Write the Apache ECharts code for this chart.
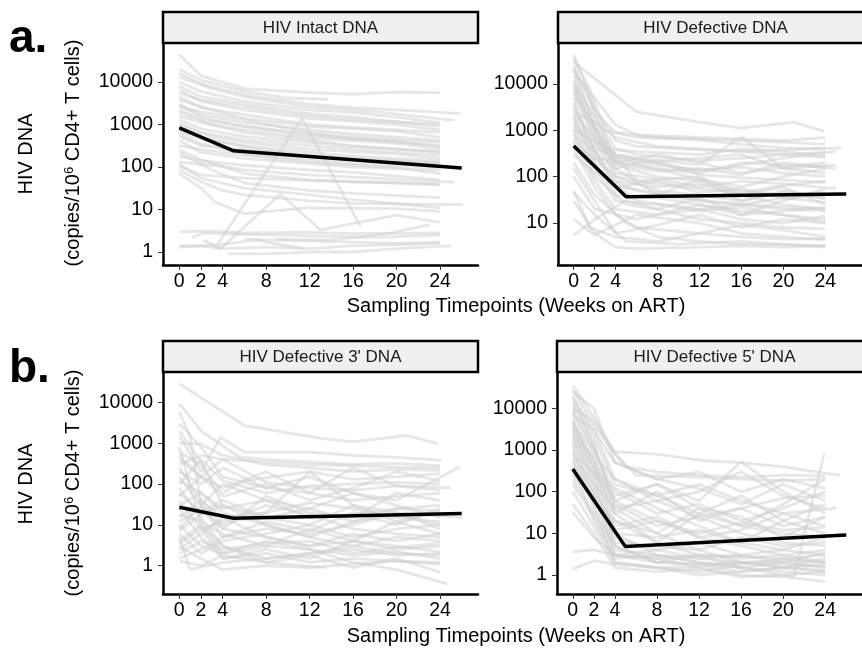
<!DOCTYPE html>
<html>
<head>
<meta charset="utf-8">
<script src="https://cdn.jsdelivr.net/npm/echarts@6/dist/echarts.min.js"></script>
<style>
  html, body { margin: 0; padding: 0; background: #fff; }
  #main { width: 862px; height: 648px; }
</style>
</head>
<body>
<div id="main"></div>
<script>
// x ticks (weeks) and y ticks (copies)
var weekTicks = [0, 2, 4, 8, 12, 16, 20, 24];
var copyTicks = [1, 10, 100, 1000, 10000];

var panelTitles = ['HIV Intact DNA', 'HIV Defective DNA', "HIV Defective 3' DNA", "HIV Defective 5' DNA"];

// black fitted line, [week, copies]
var intactTrend = [[0, 830], [5, 240], [26, 95]];
var defectiveTrend = [[0, 460], [5, 37], [26, 42]];
var def3Trend = [[0, 27], [5, 14.5], [26, 19]];
var def5Trend = [[0, 350], [5, 4.8], [26, 9.1]];

// participant lines, each [[week, copies], ...]
var intactLines = [
  [[0,44000],[2,14000],[6,7000],[12,5600],[16,5200],[20,5800],[24,5600]],
  [[0,20000],[2,11000],[6,6000],[10,4200],[13.7,3900]],
  [[0,16000],[2,9000],[6,5000],[12,3000],[16,2500],[20,2200],[25.9,1800]],
  [[0,13000],[3,7000],[6,4500],[12,2600],[18,2000],[25.3,1250]],
  [[0,10000],[2,6000],[6,3500],[12,2200],[16,1900],[20,1500],[24,1100]],
  [[0,8000],[2,4500],[6,3000],[12,1800],[16,1500],[24,900]],
  [[0,6500],[2,3500],[6,2200],[12,1400],[20,1000],[24,750]],
  [[0,5500],[2,3800],[6,2600],[12,1600],[16,1300],[24,1000]],
  [[0,4500],[2,2500],[6,1700],[12,1000],[16,850],[24,650]],
  [[0,3800],[3,2200],[6,1400],[12,900],[20,700],[24,500]],
  [[0,3000],[2,1700],[6,1100],[12,750],[16,600],[24,420]],
  [[0,2800],[2,1500],[6,900],[12,600],[16,450],[20,400],[24,300]],
  [[0,2600],[2,2000],[6,1300],[12,650],[16,520],[24,380]],
  [[0,2200],[2,1300],[6,900],[12,550],[16,480],[24,320]],
  [[0,1900],[3,1000],[6,750],[12,480],[20,360],[24,260]],
  [[0,1600],[2,1100],[6,650],[12,420],[16,320],[24,220]],
  [[0,1300],[2,800],[6,520],[12,380],[16,300],[24,230]],
  [[0,1100],[2,650],[6,430],[12,320],[16,260],[24,190]],
  [[0,950],[3,520],[6,380],[12,260],[20,200],[24,160]],
  [[0,900],[2,500],[6,300],[12,180],[16,150],[24,120]],
  [[0,700],[2,450],[6,320],[12,220],[16,180],[24,140]],
  [[0,600],[2,350],[6,200],[12,150],[16,120],[24,100]],
  [[0,520],[2,320],[6,260],[12,190],[16,160],[24,125]],
  [[0,420],[2,220],[6,160],[12,120],[16,100],[24,85]],
  [[0,320],[2,260],[6,190],[12,130],[20,95],[24,70]],
  [[0,250],[2,150],[6,70],[12,50],[16,45],[24,40]],
  [[0,220],[3,85],[6,42],[12,28],[16,24],[24,19]],
  [[0,180],[2,140],[6,110],[12,85],[16,75],[24,50]],
  [[0,130],[3,110],[6,85],[12,65],[16,58],[25.3,44]],
  [[0,115],[2,55],[6,32],[12,22],[16,17],[24,11]],
  [[0,105],[2,65],[6,55],[12,48],[20,42],[24,38]],
  [[0,85],[2,45],[4,28],[6,22],[12,16],[16,14],[26.1,13]],
  [[0,70],[2,32],[3.3,15],[5.9,8],[12,11],[20,10.5],[24,9]],
  [[0,3],[3,3.1],[6,2.8],[12,2.9],[16,2.7],[24,2.8]],
  [[0,1.4],[2,1.4],[4,1.2],[8,1.3],[12,1.2],[16,1.4],[24,1.6]],
  [[1.2,2.2],[2.2,2.8],[6,2.6],[12,2.4],[18,2.2],[24,2.5]],
  [[2.2,1.9],[3.8,1.2],[9.3,23],[13,3.3],[20,7.4],[24,5]],
  [[3.5,1.5],[11.3,1400],[16.7,3.9]],
  [[4.5,0.9],[8,0.9],[12,1.0],[16,1.0],[20,1.2],[25,1.4]],
  [[6,2],[12,1.8],[16,1.7],[20,1.6],[24,1.7]],
  [[0,1.3],[4,1.5],[7,1.9],[11.5,1.2]],
  [[9,2],[14,1.9],[19.2,2.7],[23.1,4.4]]
];

var defectiveLines = [
  [[0,30000],[6,2500],[12,1500],[16,1120],[21,1500],[23.9,950]],
  [[0,43000],[2,3000],[4,600],[6,450],[12,380],[16,350],[20,300],[24,260]],
  [[0,35000],[1.5,8000],[3,1000],[6,700],[12,650],[16,600],[20,560],[24,500]],
  [[0,25000],[2,2500],[4,900],[8,700],[12,620],[16,500],[20,420],[24,400]],
  [[0,22000],[2,1200],[4,150],[6,200],[12,250],[16,300],[20,150],[25,180]],
  [[0,20000],[1,9000],[4,200],[8,150],[12,120],[16,200],[20,180],[24,160]],
  [[0,18000],[2,5000],[4,1300],[6,800],[12,700],[16,650],[20,600],[24,700]],
  [[0,15000],[2,1500],[4,300],[6,250],[12,180],[16,720],[20,150],[24,120]],
  [[0,12000],[2,900],[4,120],[8,90],[12,60],[16,80],[20,70],[25,55]],
  [[0,10000],[2,2000],[4,400],[6,300],[12,220],[16,250],[20,300],[24,340]],
  [[0,9000],[1,3000],[3,400],[6,350],[12,300],[16,400],[20,350],[24,280]],
  [[0,8000],[2,600],[4,100],[8,50],[12,40],[16,30],[20,45],[24,35]],
  [[0,7000],[2,1200],[4,250],[8,200],[12,110],[16,95],[20,85],[24,75]],
  [[0,6000],[3,500],[6,80],[12,100],[16,40],[20,60],[24,25]],
  [[0,5000],[2,800],[4,180],[8,130],[12,150],[16,110],[20,200],[25,150]],
  [[0,4000],[2,300],[4,60],[8,45],[12,30],[16,25],[20,20],[24,18]],
  [[0,3500],[2,500],[5,150],[8,100],[12,80],[16,50],[20,40],[24,45]],
  [[0,3000],[2,350],[4,80],[8,60],[12,70],[16,40],[20,25],[24,20]],
  [[0,2500],[2,1500],[4,700],[8,450],[12,400],[16,350],[20,380],[25.5,420]],
  [[0,2200],[2,700],[4,200],[8,300],[12,200],[16,120],[20,160],[24,200]],
  [[0,2000],[2,200],[4,40],[8,35],[12,25],[16,18],[20,15],[24,12]],
  [[0,1800],[2,400],[6,200],[12,140],[16,160],[20,120],[24,100]],
  [[0,1500],[2,250],[4,100],[8,70],[12,55],[16,45],[20,65],[24,80]],
  [[0,1400],[2,400],[4,60],[8,80],[12,45],[16,55],[20,35],[24,40]],
  [[0,1200],[2,150],[4,30],[8,25],[12,18],[16,22],[20,15],[24,10.5]],
  [[0,1000],[2,600],[4,300],[8,200],[12,130],[16,180],[20,250],[25,350]],
  [[0,900],[2,100],[5,25],[8,20],[12,12],[16,10],[20,8],[24,7.5]],
  [[0,800],[2,350],[4,150],[8,40],[12,90],[16,30],[20,50],[24,33]],
  [[0,700],[3,100],[6,30],[12,20],[16,25],[20,35],[24,28]],
  [[0,600],[2,80],[4,20],[8,15],[12,20],[16,12],[20,10],[24,14]],
  [[0,500],[2,250],[6,180],[12,90],[16,60],[20,100],[24,150]],
  [[0,400],[2,60],[4,15],[6,8],[12,6],[16,5],[20,4.5],[24,4.6]],
  [[0,300],[2,120],[6,50],[10,35],[14,28],[20,22],[24,20]],
  [[0,200],[2,40],[5,10],[8,5],[12,4],[16,3.5],[24,3.3]],
  [[0,150],[2,30],[4,6],[8,9],[12,15],[16,8],[20,12],[24,10]],
  [[0,100],[2,20],[6,12],[12,25],[16,15],[20,30],[24,55]],
  [[0,50],[1.5,8],[4,5],[8,4],[12,6],[16,9],[20,7],[24,5]],
  [[0,45],[2,15],[5,4],[10,3.5],[16,4],[24,3]],
  [[0,30],[2,6],[4,3],[6,2.8],[12,3],[16,3.2],[20,3],[24,3.2]],
  [[0,12],[2,5.5],[6,15],[12,10],[16,6],[20,5],[24,4.3]],
  [[0,5.5],[2,12],[5,30],[8,20],[12,35],[16,15],[20,18],[24,22]]
];

var def3Lines = [
  [[0,28500],[6,2700],[13.2,1290],[16,1080],[20.9,1550],[23.8,970]],
  [[0,9300],[2.1,1900],[5.5,460],[8,400],[12,350],[16,300],[20,320],[24,280]],
  [[0,5800],[1,1500],[2,30],[4,8],[8,5],[12,3],[16,4],[20,2.5],[24,3]],
  [[0,3000],[2,800],[4,150],[8,80],[12,60],[16,40],[20,50],[24,60]],
  [[0,2000],[2,350],[4,30],[8,15],[12,25],[16,12],[20,18],[24,10]],
  [[0,1500],[2,200],[3.8,1400],[6,600],[12,600],[16,500],[20,450],[24.1,380]],
  [[0,1000],[2,960],[4,500],[8,300],[12,250],[16,200],[20,230],[24,215]],
  [[0,800],[2,10],[4,2],[8,3],[12,2.5],[16,1.8],[20,2.2],[24,1.5]],
  [[0,600],[2,300],[4,60],[6,120],[12,200],[16,130],[20,150],[24,180]],
  [[0,500],[2,150],[4,50],[8,100],[12,40],[16,80],[20,200],[24,120]],
  [[0,400],[2,150],[4,80],[8,200],[12,60],[16,250],[20,90],[24,70]],
  [[0,300],[2,500],[4,400],[8,350],[12,300],[16,280],[20,260],[24,250]],
  [[0,250],[2,40],[4,15],[8,20],[12,35],[16,25],[20,15],[24,12]],
  [[0,200],[2,100],[4,250],[8,80],[12,150],[16,60],[20,40],[25.8,260]],
  [[0,150],[2,30],[4,5],[8,8],[12,6],[16,10],[20,20],[24,8]],
  [[0,120],[2,60],[4,25],[8,40],[12,15],[16,18],[20,25],[24,22]],
  [[0,100],[2,400],[4,120],[8,60],[12,90],[16,100],[20,110],[24,100]],
  [[0,80],[2,15],[4,3],[8,1.5],[12,2],[16,3],[20,5],[24,4]],
  [[0,60],[2,20],[4,40],[8,15],[12,10],[16,30],[20,12],[24,20]],
  [[0,50],[2,150],[4,400],[8,110],[12,80],[16,70],[20,90],[25,80]],
  [[0,40],[2,8],[4,12],[8,30],[12,18],[16,8],[20,6],[24,5]],
  [[0,30],[2,60],[4,20],[8,10],[12,5],[16,12],[20,25],[24,30]],
  [[0,25],[2,5],[4,1.5],[8,2],[12,1.2],[16,1.5],[20,1.3],[24,1.1]],
  [[0,18],[2,12],[4,6],[8,3],[12,8],[16,4],[20,3],[24,2.2]],
  [[0,15],[2,40],[4,10],[8,20],[12,200],[16,30],[20,20],[26,15]],
  [[0,12],[2,25],[4,8],[8,50],[12,20],[16,15],[20,60],[24,40]],
  [[0,10],[2,3],[4,2],[8,4],[12,2.5],[16,1.2],[20,0.8],[24.7,0.36]],
  [[0,8],[2,30],[4,100],[8,40],[12,25],[16,60],[20,30],[24,15]],
  [[0,7],[2,18],[4,30],[8,10],[12,5],[16,3],[20,2],[24,1.8]],
  [[0,6],[2,2],[4,4],[8,6],[12,10],[16,5],[20,8],[24,10]],
  [[0,5],[1,0.8],[4,1.2],[8,1.5],[12,2],[16,2.5],[20,1.8],[24,2]],
  [[0,4],[2,10],[4,3],[8,1.2],[12,1.8],[16,0.9],[20,1.5],[24,0.7]],
  [[0,3.5],[2,8],[4,1.5],[8,2.5],[12,1.5],[16,4],[20,12],[24,6]],
  [[0,3],[2,1.5],[4,0.8],[8,1],[12,0.9],[16,1.1],[20,1.3],[24,1.2]],
  [[0,2.5],[2,6],[4,15],[8,5],[12,3],[16,6],[20,4],[24,6]],
  [[0,2],[2,4],[4,2.5],[8,3.5],[12,4],[16,2],[20,2.8],[24,3.5]],
  [[0,1.5],[2,2.5],[4,5],[8,12],[12,7],[16,20],[20,10],[24,25]],
  [[0,1.3],[2,1],[4,1.8],[8,1.2],[13.5,0.9]]
];

var def5Lines = [
  [[0,35700],[2,6000],[4,900],[8,800],[12.2,560],[16,500],[20.2,390],[25.4,245]],
  [[0,28000],[2,4000],[5,400],[8,300],[12,250],[16,220],[20,250],[24,240]],
  [[0,25000],[2,10000],[4,500],[8,200],[12,300],[16,100],[20,200],[24,120]],
  [[0,20000],[2,2000],[4,150],[8,80],[12,30],[16,15],[20,10],[24,8]],
  [[0,18000],[2,3000],[4,200],[8,80],[12,150],[16,60],[20,30],[25,40]],
  [[0,15000],[1,5000],[4,60],[8,20],[12,8],[16,5],[20,3],[24,2]],
  [[0,12000],[2,1500],[4,40],[8,10],[12,4],[16,2],[20,1.5],[24,1.2]],
  [[0,10000],[2,5000],[4,800],[6,250],[12,220],[16,200],[20,180],[24,200]],
  [[0,9000],[2,800],[4,200],[8,60],[12,100],[16,300],[20,80],[24,40]],
  [[0,8000],[2,1200],[4,60],[8,150],[12,40],[16,15],[20,50],[24,200]],
  [[0,7000],[2,3000],[4,500],[8,200],[12,120],[16,50],[20,150],[24,60]],
  [[0,6000],[2,500],[4,20],[8,6],[12,3],[16,2.5],[20,3],[24,4]],
  [[0,5000],[2,300],[4,10],[8,3],[12,2],[16,1.5],[20,2],[24,1.5]],
  [[0,4500],[2,400],[4,12],[8,20],[12,10],[16,18],[20,12],[24,14]],
  [[0,4000],[2,1000],[4,100],[8,30],[12,50],[16,20],[20,40],[24,100]],
  [[0,3500],[2,200],[4,5],[8,2],[12,1.8],[16,1.2],[20,1.5],[24,2.5]],
  [[0,3000],[2,600],[4,50],[8,15],[12,25],[16,10],[20,6],[24,5]],
  [[0,2500],[2,150],[4,8],[8,4],[12,6],[16,3],[20,4],[24,3]],
  [[0,2200],[2,700],[4,30],[8,6],[12,30],[16,80],[20,20],[24,10]],
  [[0,2000],[2,400],[4,30],[8,100],[12,20],[16,40],[20,15],[24,25]],
  [[0,1800],[2,100],[4,3],[8,2.5],[12,1.5],[16,1],[20,0.9],[24,0.7]],
  [[0,1500],[2,250],[4,80],[8,150],[12,60],[16,520],[20,100],[24,30]],
  [[0,1200],[2,80],[4,6],[8,5],[12,4],[16,8],[20,5],[24,6]],
  [[0,1000],[2,50],[4,4],[8,3],[12,2.5],[16,2],[20,1.8],[24,1.6]],
  [[0,800],[2,300],[4,120],[8,40],[12,15],[16,6],[20,20],[24,50]],
  [[0,700],[2,150],[4,40],[8,60],[12,25],[16,40],[20,70],[24,80]],
  [[0,600],[2,40],[4,2],[8,1.5],[12,1.2],[16,1.8],[20,2.5],[24,2]],
  [[0,500],[2,100],[4,15],[8,25],[12,8],[16,12],[20,30],[24,15]],
  [[0,400],[2,20],[4,2.5],[8,3],[12,2],[16,1.5],[20,1.2],[24,1]],
  [[0,300],[2,60],[4,10],[8,8],[12,12],[16,6],[20,4],[24,8]],
  [[0,250],[2,60],[4,20],[8,10],[12,40],[16,25],[20,8],[24,25]],
  [[0,200],[2,30],[4,5],[8,2],[12,3],[16,1.5],[21,0.9],[23.9,810]],
  [[0,150],[2,25],[4,3],[8,4],[12,2.5],[16,3],[20,2],[24,3.5]],
  [[0,100],[2,15],[4,2],[8,1.5],[12,1],[16,1.2],[20,1.5],[24,1.3]],
  [[0,50],[2,10],[4,1.5],[8,1.2],[12,1.4],[16,0.9],[20,1],[24,1.2]],
  [[0,32],[2,8],[4,3],[8,2],[12,1.8],[16,2],[20,1.5],[24,1.8]],
  [[0,3.6],[2,4],[4,3],[8,2.5],[12,3],[16,2.8],[20,2.5],[24,3]],
  [[0,1.4],[2,2.2],[4,1.8],[8,1.5],[12,1.6],[16,2],[20,2.2],[24,2]]
];

var FONT = '"Liberation Sans", Arial, Helvetica, sans-serif';

// panel layout (pixels) and y ranges
var panels = [
  { lines: intactLines, trend: intactTrend, left: 163, top: 43, yMin: 0.494, yMax: 82800 },
  { lines: defectiveLines, trend: defectiveTrend, left: 558, top: 43, yMin: 1.24, yMax: 76700 },
  { lines: def3Lines, trend: def3Trend, left: 163, top: 372, yMin: 0.203, yMax: 55200 },
  { lines: def5Lines, trend: def5Trend, left: 557, top: 372, yMin: 0.35, yMax: 74400 }
];
var plotW = 315, plotH = 222, stripH = 31;

var grids = [], xAxes = [], yAxes = [], series = [], graphics = [];

panels.forEach(function (p, i) {
  grids.push({ left: p.left, top: p.top, width: plotW, height: plotH });
  xAxes.push({
    type: 'value', gridIndex: i, min: -1.5, max: 27.5,
    axisLine: { show: true, onZero: false, lineStyle: { color: '#000', width: 2.5 } },
    axisTick: { show: true, length: 5, customValues: weekTicks, lineStyle: { color: '#333', width: 1 } },
    axisLabel: { customValues: weekTicks, fontSize: 19.5, color: '#000', margin: 7, fontFamily: FONT },
    splitLine: { show: false }
  });
  yAxes.push({
    type: 'log', logBase: 10, gridIndex: i, min: p.yMin, max: p.yMax,
    axisLine: { show: true, onZero: false, lineStyle: { color: '#000', width: 2.5 } },
    axisTick: { show: true, length: 5, customValues: copyTicks, lineStyle: { color: '#333', width: 1 } },
    axisLabel: {
      customValues: copyTicks, fontSize: 19.5, color: '#000', margin: 10, fontFamily: FONT,
      formatter: function (v) { return String(Math.round(v)); }
    },
    splitLine: { show: false }
  });
  p.lines.forEach(function (line) {
    series.push({
      type: 'line', xAxisIndex: i, yAxisIndex: i, data: line,
      symbol: 'none', silent: true, z: 2,
      lineStyle: { color: '#cfcfcf', opacity: 0.5, width: 2.8 }
    });
  });
  series.push({
    type: 'line', xAxisIndex: i, yAxisIndex: i, data: p.trend,
    symbol: 'none', silent: true, z: 5,
    lineStyle: { color: '#000', width: 3.5 }
  });

  // facet strip
  graphics.push({
    type: 'rect', z: 10,
    shape: { x: p.left, y: p.top - stripH, width: plotW, height: stripH },
    style: { fill: '#f0f0f0', stroke: '#000', lineWidth: 2.5 }
  });
  graphics.push({
    type: 'text', z: 11,
    x: p.left + plotW / 2, y: p.top - stripH / 2 + 1,
    style: { text: panelTitles[i], fontSize: 17, fontFamily: FONT, fill: '#1a1a1a', align: 'center', verticalAlign: 'middle' }
  });
});

// panel letters, axis titles
[['a.', 39], ['b.', 369]].forEach(function (t) {
  graphics.push({
    type: 'text', x: 9, y: t[1],
    style: { text: t[0], fontSize: 46, fontWeight: 'bold', fontFamily: FONT, fill: '#000', align: 'left', verticalAlign: 'middle' }
  });
});
[154, 484].forEach(function (cy) {
  graphics.push({
    type: 'text', x: 26, y: cy, rotation: Math.PI / 2,
    style: { text: 'HIV DNA', fontSize: 20, fontFamily: FONT, fill: '#000', align: 'center', verticalAlign: 'middle' }
  });
  graphics.push({
    type: 'text', x: 73, y: cy - 1, rotation: Math.PI / 2,
    style: {
      text: '(copies/10{sup|6} CD4+ T cells)', fontSize: 20, fontFamily: FONT, fill: '#000',
      align: 'center', verticalAlign: 'middle',
      rich: { sup: { fontSize: 13, fontFamily: FONT, fill: '#000', verticalAlign: 'top' } }
    }
  });
});
[306, 636].forEach(function (cy) {
  graphics.push({
    type: 'text', x: 516, y: cy,
    style: { text: 'Sampling Timepoints (Weeks on ART)', fontSize: 20, fontFamily: FONT, fill: '#000', align: 'center', verticalAlign: 'middle' }
  });
});

var myChart = echarts.init(document.getElementById('main'));
myChart.setOption({
  backgroundColor: '#fff',
  animation: false,
  grid: grids,
  xAxis: xAxes,
  yAxis: yAxes,
  series: series,
  graphic: graphics
});
</script>
</body>
</html>
